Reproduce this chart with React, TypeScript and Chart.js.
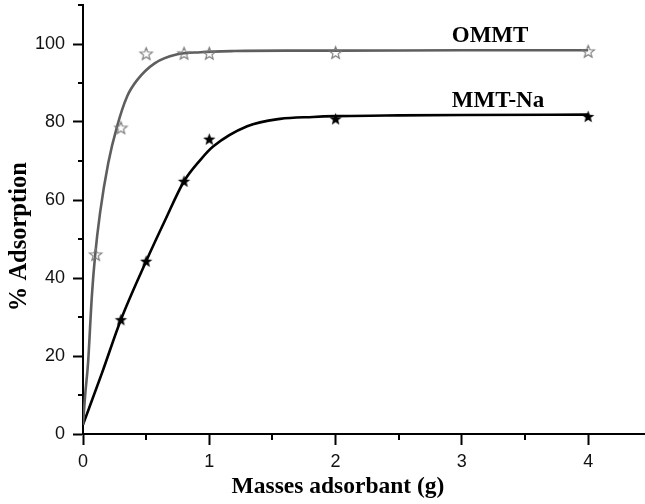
import React, { useEffect, useRef } from "react";
import { Chart, registerables } from "chart.js";

Chart.register(...registerables);

// ---- Data ----
const xTickValues = [0, 1, 2, 3, 4];
const xMinorTickValues = [0.5, 1.5, 2.5, 3.5];
const yTickValues = [0, 20, 40, 60, 80, 100];
const yMinorTickValues = [10, 30, 50, 70, 90, 110];

const seriesNames = ["OMMT", "MMT-Na"];

// measured points
const ommtX = [0.1, 0.3, 0.5, 0.8, 1, 2, 4];
const ommtY = [46, 78.5, 97.5, 97.6, 97.6, 97.8, 98.1];
const mmtX = [0.3, 0.5, 0.8, 1, 2, 4];
const mmtY = [29.3, 44.3, 64.8, 75.6, 80.8, 81.4];

// fitted curves
const ommtCurveX = [0, 0.016, 0.04, 0.07, 0.095, 0.135, 0.2, 0.27, 0.35, 0.43, 0.57, 0.74, 0.93, 1.2, 1.6, 2, 3, 4];
const ommtCurveY = [2.4, 9.6, 18.2, 35.3, 45.5, 56.7, 69.5, 78.9, 86.6, 90.8, 95.1, 97.3, 97.9, 98.2, 98.3, 98.3, 98.4, 98.4];
const mmtCurveX = [0, 0.15, 0.3, 0.5, 0.65, 0.8, 0.93, 1.03, 1.3, 1.56, 1.82, 2, 2.5, 3, 4];
const mmtCurveY = [2.4, 15.6, 29.3, 44.3, 54.8, 64.8, 70.3, 73.7, 78.9, 80.8, 81.3, 81.5, 81.7, 81.8, 81.9];

const xTitle = "Masses adsorbant (g)";
const yTitle = "% Adsorption";

const GRAY = "#5e5e5e";
const SERIF = '"Liberation Serif", "Times New Roman", serif';
const SANS = '"Liberation Sans", Arial, sans-serif';

function makeStar(filled: boolean, color: string, r: number): HTMLCanvasElement {
  const size = Math.ceil(r * 2 + 4);
  const c = document.createElement("canvas");
  c.width = size;
  c.height = size;
  const ctx = c.getContext("2d")!;
  const cx = size / 2;
  const cy = size / 2 + 0.5;
  const inner = r * 0.42;
  ctx.beginPath();
  for (let i = 0; i < 10; i++) {
    const rad = i % 2 === 0 ? r : inner;
    const a = -Math.PI / 2 + (i * Math.PI) / 5;
    const px = cx + rad * Math.cos(a);
    const py = cy + rad * Math.sin(a);
    if (i === 0) ctx.moveTo(px, py);
    else ctx.lineTo(px, py);
  }
  ctx.closePath();
  if (filled) {
    ctx.fillStyle = color;
    ctx.fill();
  } else {
    ctx.strokeStyle = color;
    ctx.lineWidth = 1.1;
    ctx.stroke();
  }
  return c;
}

const toXY = (xs: number[], ys: number[]) => xs.map((x, i) => ({ x, y: ys[i] }));

export default function App() {
  const ref = useRef<HTMLCanvasElement | null>(null);

  useEffect(() => {
    if (!ref.current) return;
    const hollowStar = makeStar(false, "#777777", 6.5);
    const blackStar = makeStar(true, "#000000", 6.5);

    const decorPlugin = {
      id: "decor",
      afterDraw(chart: any) {
        const ctx = chart.ctx as CanvasRenderingContext2D;
        const xs = chart.scales.x;
        const ys = chart.scales.y;
        const area = chart.chartArea;
        ctx.save();
        // minor ticks
        ctx.strokeStyle = "#000";
        ctx.lineWidth = 2;
        ctx.beginPath();
        yMinorTickValues.forEach((v) => {
          const py = Math.round(ys.getPixelForValue(v));
          ctx.moveTo(area.left - 5, py);
          ctx.lineTo(area.left, py);
        });
        xMinorTickValues.forEach((v) => {
          const px = Math.round(xs.getPixelForValue(v));
          ctx.moveTo(px, area.bottom);
          ctx.lineTo(px, area.bottom + 6);
        });
        ctx.stroke();

        // series labels
        ctx.fillStyle = "#000";
        ctx.font = `bold 23px ${SERIF}`;
        ctx.textAlign = "left";
        ctx.textBaseline = "alphabetic";
        ctx.fillText(seriesNames[0], xs.getPixelForValue(2.92), ys.getPixelForValue(100.6));
        ctx.fillText(seriesNames[1], xs.getPixelForValue(2.92), ys.getPixelForValue(83.8));

        // axis titles
        ctx.font = `bold 23.5px ${SERIF}`;
        ctx.textAlign = "center";
        ctx.fillText(xTitle, 338, 492.5);
        ctx.translate(26, 236.7);
        ctx.rotate(-Math.PI / 2);
        ctx.font = `bold 24.5px ${SERIF}`;
        ctx.fillText(yTitle, 0, 0);
        ctx.restore();
      },
    };

    const chart = new Chart(ref.current, {
      type: "scatter",
      data: {
        datasets: [
          {
            label: seriesNames[0] + " fit",
            data: toXY(ommtCurveX, ommtCurveY),
            showLine: true,
            borderColor: GRAY,
            borderWidth: 2.6,
            pointRadius: 0,
            cubicInterpolationMode: "monotone",
            order: 2,
          },
          {
            label: seriesNames[1] + " fit",
            data: toXY(mmtCurveX, mmtCurveY),
            showLine: true,
            borderColor: "#000",
            borderWidth: 2.6,
            pointRadius: 0,
            cubicInterpolationMode: "monotone",
            order: 2,
          },
          {
            label: seriesNames[0],
            data: toXY(ommtX, ommtY),
            showLine: false,
            pointStyle: hollowStar as any,
            pointRadius: 6,
            order: 1,
          },
          {
            label: seriesNames[1],
            data: toXY(mmtX, mmtY),
            showLine: false,
            pointStyle: blackStar as any,
            pointRadius: 6,
            order: 1,
          },
        ],
      },
      options: {
        responsive: false,
        animation: false,
        devicePixelRatio: 1,
        layout: { autoPadding: false, padding: { top: 5, right: 0, bottom: 0, left: 0 } },
        plugins: {
          legend: { display: false },
          tooltip: { enabled: false },
          title: { display: false },
        },
        scales: {
          x: {
            type: "linear",
            min: 0,
            max: 4.45,
            afterBuildTicks: (s: any) => {
              s.ticks = xTickValues.map((v) => ({ value: v }));
            },
            afterFit: (s: any) => {
              s.height = 70;
              s.paddingLeft = 0;
              s.paddingRight = 0;
            },
            grid: {
              display: true,
              drawOnChartArea: false,
              drawTicks: true,
              tickLength: 11,
              tickWidth: 2,
              tickColor: "#000",
            },
            border: { display: true, color: "#000", width: 2 },
            ticks: {
              color: "#111",
              font: { family: SANS, size: 18 },
              padding: 6,
              maxRotation: 0,
              autoSkip: false,
            },
          },
          y: {
            type: "linear",
            min: 0,
            max: 110,
            afterBuildTicks: (s: any) => {
              s.ticks = yTickValues.map((v) => ({ value: v }));
            },
            afterFit: (s: any) => {
              s.width = 83;
              s.paddingTop = 0;
              s.paddingBottom = 0;
            },
            grid: {
              display: true,
              drawOnChartArea: false,
              drawTicks: true,
              tickLength: 10,
              tickWidth: 2,
              tickColor: "#000",
            },
            border: { display: true, color: "#000", width: 2 },
            ticks: {
              color: "#111",
              font: { family: SANS, size: 18 },
              padding: 8,
              autoSkip: false,
            },
          },
        },
      },
      plugins: [decorPlugin],
    } as any);

    return () => chart.destroy();
  }, []);

  return (
    <div style={{ position: "fixed", left: 0, top: 0, width: 645, height: 504, background: "#fff", overflow: "hidden" }}>
      <canvas ref={ref} width={645} height={504} style={{ width: 645, height: 504, display: "block" }} />
    </div>
  );
}
